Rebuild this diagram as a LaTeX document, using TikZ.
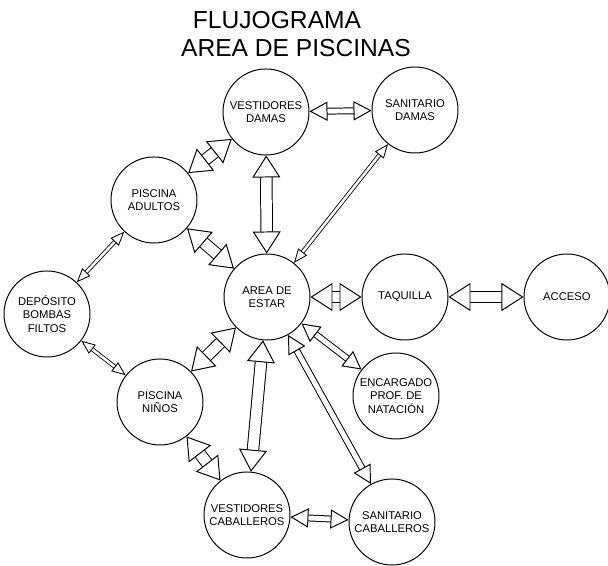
\documentclass[tikz,border=0pt]{standalone}
\usepackage{fontspec}
\setmainfont{Liberation Sans}
\usetikzlibrary{arrows.meta,positioning}

\begin{document}
\begin{tikzpicture}[
  place/.style={circle, draw, line width=0.7pt, minimum size=2.15cm, inner sep=0pt,
    align=center, font=\fontsize{8}{9.5}\selectfont},
  heading/.style={font=\fontsize{17.5}{20}\selectfont},
  bigarr/.style={double, double distance=7.5pt, line width=0.7pt,
    {Triangle[fill=white, line width=0.7pt, length=5.5mm, width=7mm]}-{Triangle[fill=white, line width=0.7pt, length=5.5mm, width=7mm]}},
  midarr/.style={double, double distance=3.5pt, line width=0.7pt,
    {Triangle[fill=white, line width=0.7pt, length=4.5mm, width=4.8mm]}-{Triangle[fill=white, line width=0.7pt, length=4.5mm, width=4.8mm]}},
  thinarr/.style={double, double distance=1.8pt, line width=0.6pt,
    {Triangle[fill=white, line width=0.6pt, length=3.5mm, width=2.8mm]}-{Triangle[fill=white, line width=0.6pt, length=3.5mm, width=2.8mm]}}]
\useasboundingbox (0,0) rectangle (15.2,14.15);
% titulo
\node[heading] (tit1) at (6.925,13.65) {FLUJOGRAMA};
\node[heading] (tit2) at (7.4,12.95) {AREA DE PISCINAS};
% areas
\node[place] (vestd) at (6.65,11.35) {VESTIDORES\\DAMAS};
\node[place] (sanid) at (10.375,11.4) {SANITARIO\\DAMAS};
\node[place] (pisca) at (3.85,9.15) {PISCINA\\ADULTOS};
\node[place] (estar) at (6.675,6.725) {AREA DE\\ESTAR};
\node[place] (taquilla) at (10.125,6.725) {TAQUILLA};
\node[place, right=18.75mm of taquilla] (acceso) {ACCESO};
\node[place] (deposito) at (1.175,6.3) {DEPÓSITO\\BOMBAS\\FILTOS};
\node[place] (piscn) at (4.0,4.1) {PISCINA\\NIÑOS};
\node[place] (encargado) at (9.9,4.25) {ENCARGADO\\PROF. DE\\NATACIÓN};
\node[place] (vestc) at (6.175,1.275) {VESTIDORES\\CABALLEROS};
\node[place] (sanic) at (9.8,1.1) {SANITARIO\\CABALLEROS};
% flujos
\draw[midarr] (vestd) -- (sanid);
\draw[bigarr] (pisca) -- (vestd);
\draw[bigarr] (vestd) -- (estar);
\draw[thinarr] (sanid) -- (estar);
\draw[bigarr] (pisca) -- (estar);
\draw[thinarr] (deposito) -- (pisca);
\draw[thinarr] (deposito) -- (piscn);
\draw[bigarr] (estar) -- (taquilla);
\draw[bigarr] (taquilla) -- (acceso);
\draw[midarr] (estar) -- (encargado);
\draw[bigarr] (estar) -- (piscn);
\draw[bigarr] (estar) -- (vestc);
\draw[midarr] (estar) -- (sanic);
\draw[bigarr] (piscn) -- (vestc);
\draw[midarr] (vestc) -- (sanic);
\end{tikzpicture}
\end{document}
